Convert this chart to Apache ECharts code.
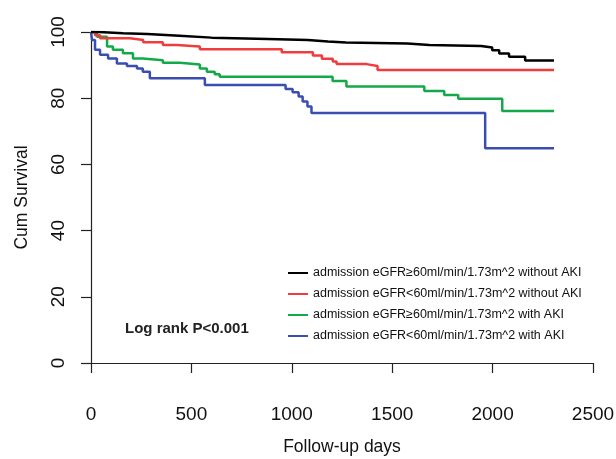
<!DOCTYPE html>
<html>
<head>
<meta charset="utf-8">
<script src="https://cdn.jsdelivr.net/npm/echarts@6/dist/echarts.min.js"></script>
<style>
  html, body { margin: 0; padding: 0; background: #fff; }
  #chart { width: 616px; height: 459px; }
</style>
</head>
<body>
<div id="chart"></div>
<script>
// Kaplan-Meier steps: [day, cumulative survival %]
var seriesNames = [
    'admission eGFR≥60ml/min/1.73m^2 without AKI',
    'admission eGFR<60ml/min/1.73m^2 without AKI',
    'admission eGFR≥60ml/min/1.73m^2 with AKI',
    'admission eGFR<60ml/min/1.73m^2 with AKI'
];
var seriesColors = ['#000000', '#f03c3c', '#13a94b', '#3a4db0'];

var noAkiHigh = [
    [0, 100], [40, 99.6], [160, 99.4], [280, 98.9], [440, 98.3], [600, 97.9],
    [880, 97.6], [1080, 97.1], [1180, 96.8], [1270, 96.5], [1575, 96.1],
    [1685, 95.8], [1943, 95.3], [1998, 94.5], [2033, 93.5], [2082, 92.5],
    [2162, 91.4], [2306, 91.4]
];
var noAkiLow = [
    [0, 100], [20, 99.0], [45, 98.1], [195, 97.6], [260, 96.9], [358, 96.1],
    [428, 95.6], [542, 94.8], [950, 93.9], [1105, 92.9], [1150, 91.9],
    [1204, 91.1], [1223, 90.3], [1372, 89.7], [1427, 88.5], [2306, 88.5]
];
var akiHigh = [
    [0, 100], [30, 98.6], [80, 95.6], [109, 94.6], [159, 93.6], [209, 92.0],
    [258, 91.5], [358, 90.7], [442, 90.2], [542, 89.0], [577, 88.0],
    [616, 87.2], [641, 86.5], [1203, 85.2], [1272, 83.5], [1660, 82.2],
    [1759, 81.0], [1829, 79.8], [2048, 76.1], [2306, 76.1]
];
var akiLow = [
    [0, 100], [5, 97.6], [20, 94.6], [45, 93.1], [85, 92.0], [129, 90.5],
    [179, 89.7], [229, 89.0], [258, 88.0], [293, 86.0], [567, 84.0],
    [969, 82.8], [1004, 81.8], [1034, 80.5], [1054, 79.0], [1078, 77.5],
    [1098, 75.5], [1963, 64.9], [2306, 64.9]
];
var allData = [noAkiHigh, noAkiLow, akiHigh, akiLow];

var axisFont = 'Liberation Sans, Arial, sans-serif';
var chart = echarts.init(document.getElementById('chart'));

var series = [];
allData.forEach(function (data, i) {
    series.push({
        name: seriesNames[i],
        type: 'line',
        step: 'end',
        data: data,
        showSymbol: false,
        symbol: 'none',
        animation: false,
        lineStyle: { color: seriesColors[i], width: 2.5 },
        itemStyle: { color: seriesColors[i] },
        z: 10 - i
    });
});

var option = {
    backgroundColor: '#ffffff',
    textStyle: { fontFamily: axisFont },
    grid: { left: 91, right: 23, top: 32, bottom: 96, outerBoundsMode: 'none', containLabel: false },
    legend: {
        orient: 'vertical',
        left: 283,
        top: 261,
        icon: 'rect',
        itemWidth: 20,
        itemHeight: 2,
        itemGap: 7,
        textStyle: { fontSize: 12.5, color: '#111', lineHeight: 14, fontFamily: axisFont },
        data: seriesNames
    },
    xAxis: {
        type: 'value',
        min: 0,
        max: 2500,
        interval: 500,
        offset: 13,
        name: 'Follow-up days',
        nameLocation: 'middle',
        nameGap: 62,
        nameTextStyle: { fontSize: 17.5, color: '#111', fontFamily: axisFont },
        axisLine: { show: true, lineStyle: { color: '#222', width: 1.2 } },
        axisTick: { show: true, inside: false, length: 10, lineStyle: { color: '#222', width: 1.2 } },
        axisLabel: {
            fontSize: 19, color: '#111', margin: 29, fontFamily: axisFont,
            formatter: function (v) { return String(v); }
        },
        splitLine: { show: false }
    },
    yAxis: {
        type: 'value',
        min: 0,
        max: 100,
        interval: 20,
        name: 'Cum Survival',
        nameLocation: 'middle',
        nameRotate: 90,
        nameGap: 60,
        nameTextStyle: { fontSize: 17.5, color: '#111', fontFamily: axisFont },
        axisLine: { show: true, lineStyle: { color: '#222', width: 1.2 } },
        axisTick: { show: true, inside: false, length: 10, lineStyle: { color: '#222', width: 1.2 } },
        axisLabel: { fontSize: 19, color: '#111', rotate: 90, margin: 23, fontFamily: axisFont },
        splitLine: { show: false }
    },
    graphic: [{
        type: 'text',
        left: 125,
        top: 321,
        style: {
            text: 'Log rank P<0.001',
            font: 'bold 15px Liberation Sans, Arial, sans-serif',
            fill: '#222'
        }
    }],
    series: series
};
chart.setOption(option);
</script>
</body>
</html>
